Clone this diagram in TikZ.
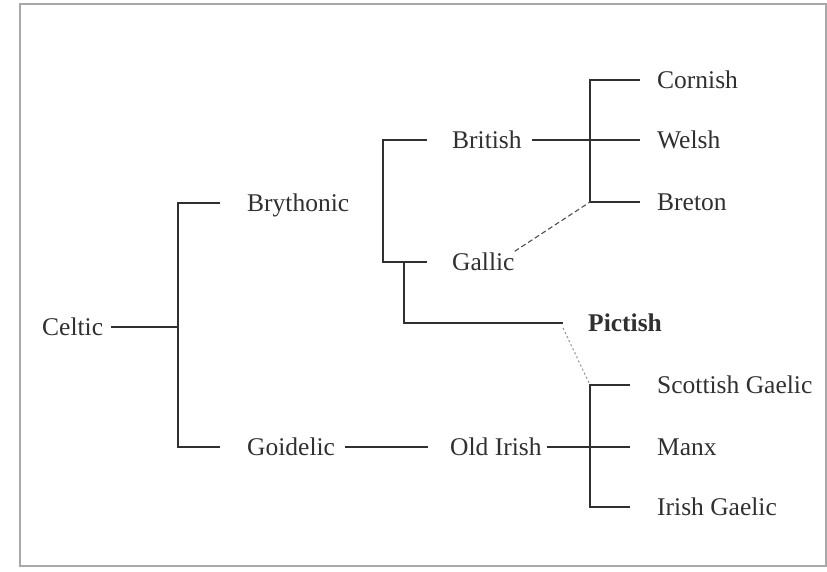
\documentclass[tikz,border=0pt]{standalone}
\usepackage{fontspec}
\setmainfont{Liberation Serif}
\usetikzlibrary{calc}
\definecolor{ink}{HTML}{303030}
\definecolor{frameline}{HTML}{A8A8A8}
\definecolor{muted}{HTML}{707070}
\tikzset{
  lang/.style={anchor=west,inner xsep=5pt,inner ysep=2pt,text height=17pt,text depth=0pt,text=ink,font=\fontsize{25.5}{30}\selectfont},
  branch/.style={draw=ink,line width=1.3pt},
  contact/.style={draw=ink!85,line width=1.1pt,dash pattern=on 5pt off 3pt},
  faint contact/.style={draw=muted!80,line width=1pt,dash pattern=on 2pt off 2.5pt}
}

\begin{document}
\begin{tikzpicture}[x=1pt,y=-1pt]
  \useasboundingbox (0,0) rectangle (827,572);
  \draw[draw=frameline,line width=1.2pt] (20,4) rectangle (826,566);

  % language names
  \node[lang] (celtic) at (37,327) {Celtic};
  \node[lang] (brythonic) at (242,203) {Brythonic};
  \node[lang] (goidelic) at (242,447) {Goidelic};
  \node[lang] (british) at (447,140) {British};
  \node[lang] (gallic) at (447,262) {Gallic};
  \node[lang] (oldirish) at (445,447) {Old Irish};
  \node[lang,font=\fontsize{25.5}{30}\selectfont\bfseries] (pictish) at (583,323) {Pictish};
  \node[lang] (cornish) at (652,80) {Cornish};
  \node[lang] (welsh) at (652,140) {Welsh};
  \node[lang] (breton) at (652,202) {Breton};
  \node[lang] (scottish) at (652,385) {Scottish Gaelic};
  \node[lang] (manx) at (652,447) {Manx};
  \node[lang] (irish) at (652,507) {Irish Gaelic};

  % stub ends and forks
  \coordinate (brythonic-stub) at ([xshift=-22pt]brythonic.west);
  \coordinate (goidelic-stub) at ([xshift=-22pt]goidelic.west);
  \coordinate (celtic-fork) at (178,327);
  \coordinate (british-stub) at ([xshift=-20pt]british.west);
  \coordinate (gallic-stub) at ([xshift=-20pt]gallic.west);
  \coordinate (brit-fork) at (383,0);
  \coordinate (pict-fork) at (404,0);
  \coordinate (pict-end) at ([xshift=-20pt]pictish.west);
  \coordinate (cornish-stub) at ([xshift=-12pt]cornish.west);
  \coordinate (welsh-stub) at ([xshift=-12pt]welsh.west);
  \coordinate (breton-stub) at ([xshift=-12pt]breton.west);
  \coordinate (breton-fork) at (590,0);
  \coordinate (scottish-stub) at ([xshift=-22pt]scottish.west);
  \coordinate (manx-stub) at ([xshift=-22pt]manx.west);
  \coordinate (irish-stub) at ([xshift=-22pt]irish.west);
  \coordinate (gaelic-fork) at (590,0);

  \draw[branch,shorten <=3pt] (celtic) -- (celtic-fork);
  \draw[branch] (brythonic-stub) -- (celtic-fork |- brythonic-stub) -- (celtic-fork |- goidelic-stub) -- (goidelic-stub);
  \draw[branch,shorten <=5pt,shorten >=17pt] (goidelic) -- (oldirish);
  \draw[branch] (oldirish) -- (manx-stub);
  \draw[branch] (scottish-stub) -- (gaelic-fork |- scottish-stub) -- (gaelic-fork |- irish-stub) -- (irish-stub);

  \draw[branch] (british-stub) -- (brit-fork |- british-stub) -- (brit-fork |- gallic-stub) -- (gallic-stub);
  \draw[branch] (pict-fork |- gallic-stub) -- (pict-fork |- pict-end) -- (pict-end);
  \draw[branch,shorten <=5pt] (british) -- (welsh-stub);
  \draw[branch] (cornish-stub) -- (breton-fork |- cornish-stub) -- (breton-fork |- breton-stub) -- (breton-stub);

  \draw[contact] ([xshift=-5pt]gallic.north east) -- (breton-fork |- breton-stub);
  \draw[faint contact] ([yshift=-5pt]pict-end) -- (gaelic-fork |- scottish-stub);
\end{tikzpicture}
\end{document}
